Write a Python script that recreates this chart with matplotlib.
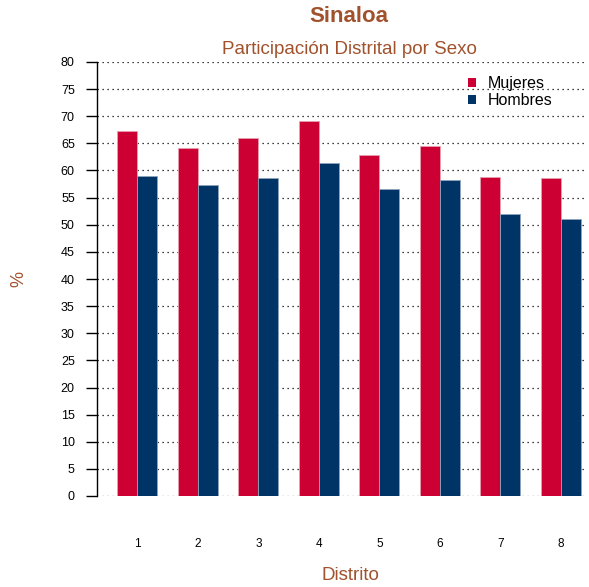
import matplotlib
matplotlib.use("Agg")
import matplotlib.pyplot as plt
import numpy as np

distritos = ["1", "2", "3", "4", "5", "6", "7", "8"]
mujeres = [67.3, 64.1, 66.0, 69.1, 62.9, 64.6, 58.8, 58.7]
hombres = [58.9, 57.3, 58.7, 61.4, 56.6, 58.2, 52.0, 51.1]
yticks = list(range(0, 85, 5))

plt.rcParams['font.family'] = ['Liberation Sans', 'DejaVu Sans']
red = "#CC0033"
navy = "#003366"
brown = "#A0522D"

fig = plt.figure(figsize=(5.89, 5.87), dpi=100)
ax = fig.add_axes([97/589, (587-496)/587, (587-97)/589, 434/587])

n = len(distritos)
starts = 1 + 3*np.arange(n)
ax.bar(starts, mujeres, width=1, align='edge', color=red, edgecolor="#E8A0B0", linewidth=0.6, label="Mujeres", zorder=3)
ax.bar(starts+1, hombres, width=1, align='edge', color=navy, edgecolor="#8FA3BC", linewidth=0.6, label="Hombres", zorder=3)

ax.set_xlim(0, 24.3)
ax.set_ylim(0, 80)
ax.set_yticks(yticks)
ax.set_yticklabels([str(v) for v in yticks], fontsize=9)
for v in yticks:
    ax.axhline(v, color="black", linestyle=(0, (1, 3)), linewidth=0.9, zorder=1)

ax.set_xticks(starts+1)
ax.set_xticklabels(distritos, fontsize=8.5)
ax.tick_params(axis='x', length=0, pad=30)
ax.tick_params(axis='y', length=8, width=1, pad=8, direction='out')

for s in ['top', 'right', 'bottom']:
    ax.spines[s].set_visible(False)
ax.spines['left'].set_linewidth(1)

fig.text(349/589, 1-17/587, "Sinaloa", ha='center', va='center', fontsize=16, fontweight='bold', color=brown)
fig.text(349/589, 1-50/587, "Participación Distrital por Sexo", ha='center', va='center', fontsize=13.5, color=brown)
fig.text(350/589, 1-576/587, "Distrito", ha='center', va='center', fontsize=13.5, color=brown)
fig.text(19/589, 1-279/587, "%", ha='center', va='center', fontsize=13, color=brown, rotation=90)

leg = ax.legend(loc='upper left', bbox_to_anchor=(462/589, 1-70/587), bbox_transform=fig.transFigure,
                frameon=False, fontsize=11.5, handlelength=0.45, handleheight=0.5, handletextpad=0.75,
                labelspacing=0.1, borderaxespad=0)
for h in leg.legend_handles:
    h.set_linewidth(0)

fig.savefig("out.png", dpi=100)
